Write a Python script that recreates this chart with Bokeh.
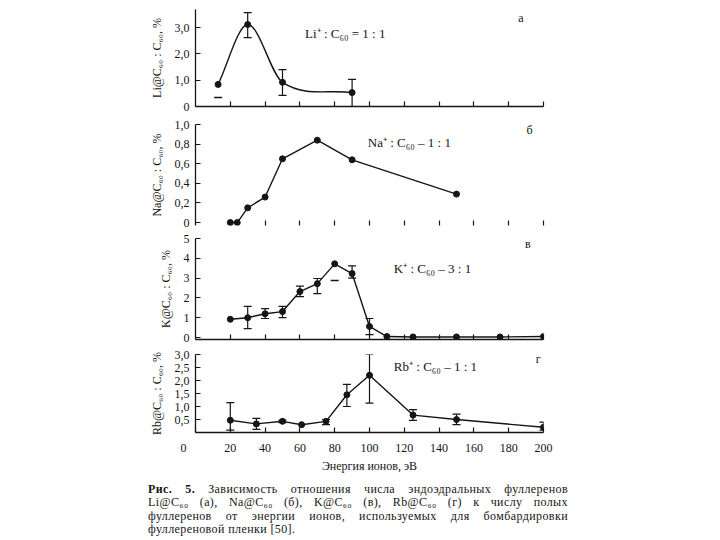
from bokeh.plotting import figure
from bokeh.models import (Range1d, FixedTicker, CustomJSTickFormatter, Whisker, TeeHead,
                          ColumnDataSource, Label, Div)
from bokeh.layouts import column
from bokeh.embed import file_html
from bokeh.resources import INLINE

FONT = "Liberation Serif"
INK = "#151515"

x_ticks = [20, 40, 60, 80, 100, 120, 140, 160, 180, 200]

# --- panel а: Li@C60 ---
li_x = [13, 30, 50, 90]
li_y = [0.84, 3.12, 0.92, 0.53]
li_err_x = [30, 50, 90]
li_err_lo = [2.62, 0.42, 0.0]
li_err_hi = [3.57, 1.40, 1.03]
li_dash_x = [13]
li_dash_y = [0.34]

# --- panel б: Na@C60 ---
na_x = [20, 24, 30, 40, 50, 70, 90, 150]
na_y = [0.0, 0.0, 0.15, 0.26, 0.65, 0.84, 0.64, 0.29]

# --- panel в: K@C60 ---
k_x = [20, 30, 40, 50, 60, 70, 80, 90, 100, 110, 125, 150, 175, 200]
k_y = [0.92, 1.0, 1.2, 1.31, 2.32, 2.72, 3.72, 3.23, 0.56, 0.05, 0.03, 0.03, 0.03, 0.05]
k_err_x = [30, 40, 50, 60, 70, 90, 100]
k_err_lo = [0.45, 0.96, 1.0, 2.07, 2.22, 3.0, 0.15]
k_err_hi = [1.57, 1.46, 1.57, 2.6, 2.98, 3.62, 0.96]
k_dash_x = [80]
k_dash_y = [2.88]

# --- panel г: Rb@C60 ---
rb_x = [20, 35, 50, 61, 75, 87, 100, 125, 150, 200]
rb_y = [0.47, 0.33, 0.43, 0.30, 0.43, 1.45, 2.2, 0.67, 0.5, 0.2]
rb_err_x = [20, 35, 50, 75, 87, 100, 125, 150, 200]
rb_err_lo = [0.09, 0.12, 0.38, 0.3, 1.0, 1.13, 0.47, 0.3, 0.09]
rb_err_hi = [1.15, 0.54, 0.48, 0.5, 1.85, 3.0, 0.88, 0.71, 0.4]

comma_fmt = CustomJSTickFormatter(
    code="return tick == 0 ? '0' : tick.toFixed(1).replace('.', ',');")


def base_fig(height, top, bottom, y0, y1, yticks, ylabel, comma=True, xlabels=False):
    p = figure(width=568, height=height, x_range=Range1d(0, 200), y_range=Range1d(y0, y1),
               min_border_left=195, min_border_right=25, min_border_top=top,
               min_border_bottom=bottom, output_backend="svg", toolbar_location=None, tools="")
    p.grid.visible = False
    p.outline_line_color = None
    p.background_fill_color = "white"
    p.border_fill_color = "white"

    yax = p.yaxis[0]
    yax.ticker = FixedTicker(ticks=yticks)
    if comma:
        yax.formatter = comma_fmt
    yax.major_tick_in = 5
    yax.major_tick_out = 0
    yax.minor_tick_line_color = None
    yax.axis_line_color = INK
    yax.axis_line_width = 1.3
    yax.major_tick_line_color = INK
    yax.major_tick_line_width = 1.2
    yax.major_label_text_font = FONT
    yax.major_label_text_font_size = "12px"
    yax.major_label_text_color = INK
    yax.major_label_standoff = 6
    yax.axis_label = ylabel
    yax.axis_label_text_font = FONT
    yax.axis_label_text_font_size = "12px"
    yax.axis_label_text_font_style = "normal"
    yax.axis_label_text_color = INK
    yax.axis_label_standoff = 8

    xax = p.xaxis[0]
    xax.ticker = FixedTicker(ticks=x_ticks)
    xax.major_tick_in = 5
    xax.major_tick_out = 0
    xax.minor_tick_line_color = None
    xax.axis_line_color = INK
    xax.axis_line_width = 1.3
    xax.major_tick_line_color = INK
    xax.major_tick_line_width = 1.2
    if xlabels:
        xax.major_label_text_font = FONT
        xax.major_label_text_font_size = "12px"
        xax.major_label_text_color = INK
        xax.major_label_standoff = 8
    else:
        xax.major_label_text_font_size = "1px"
        xax.major_label_text_color = None
        xax.major_label_standoff = 0
    return p


def add_label(p, x, y, text, size="12px", align="left"):
    p.add_layout(Label(x=x, y=y, text=text, text_font=FONT, text_font_size=size,
                       text_color=INK, text_align=align, text_baseline="middle"))


def add_errors(p, xs, lo, hi):
    src = ColumnDataSource(dict(x=xs, lo=lo, hi=hi))
    w = Whisker(base="x", lower="lo", upper="hi", source=src, dimension="height",
                line_color=INK, line_width=1.2,
                upper_head=TeeHead(size=8, line_color=INK, line_width=1.2),
                lower_head=TeeHead(size=8, line_color=INK, line_width=1.2))
    p.add_layout(w)


# ---------- panel а ----------
pa = base_fig(115, 9, 9, 0, 3.69, [0, 1, 2, 3], "Li@C\u2086\u2080 : C\u2086\u2080, %")
n = len(li_x)
slopes = []
for i in range(n):
    if i == 0:
        slopes.append((li_y[1] - li_y[0]) / (li_x[1] - li_x[0]))
    elif i == n - 1:
        slopes.append((li_y[-1] - li_y[-2]) / (li_x[-1] - li_x[-2]))
    else:
        slopes.append((li_y[i + 1] - li_y[i - 1]) / (li_x[i + 1] - li_x[i - 1]))
bx0, by0, bx1, by1, cx0, cy0, cx1, cy1 = [], [], [], [], [], [], [], []
for i in range(n - 1):
    h = li_x[i + 1] - li_x[i]
    bx0.append(li_x[i]); by0.append(li_y[i])
    bx1.append(li_x[i + 1]); by1.append(li_y[i + 1])
    cx0.append(li_x[i] + h / 3); cy0.append(li_y[i] + slopes[i] * h / 3)
    cx1.append(li_x[i + 1] - h / 3); cy1.append(li_y[i + 1] - slopes[i + 1] * h / 3)
pa.bezier(x0=bx0, y0=by0, x1=bx1, y1=by1, cx0=cx0, cy0=cy0, cx1=cx1, cy1=cy1,
          line_color=INK, line_width=1.4)
add_errors(pa, li_err_x, li_err_lo, li_err_hi)
pa.scatter(li_x, li_y, size=6, color=INK)
pa.scatter(li_dash_x, li_dash_y, marker="dash", size=8, line_color=INK, line_width=1.4)
add_label(pa, 63, 2.78, "Li\u207A : C\u2086\u2080 = 1 : 1", "13px")
add_label(pa, 187, 3.38, "а", "12px", "center")

# ---------- panel б ----------
pb = base_fig(115, 9, 5, -0.03, 1.0, [0, 0.2, 0.4, 0.6, 0.8, 1.0], "Na@C\u2086\u2080 : C\u2086\u2080, %")
pb.xaxis[0].axis_line_alpha = 0
pb.line(na_x, na_y, line_color=INK, line_width=1.4)
pb.scatter(na_x, na_y, size=6, color=INK)
add_label(pb, 99, 0.816, "Na\u207A : C\u2086\u2080 \u2013 1 : 1", "13px")
add_label(pb, 192, 0.94, "б", "12px", "center")

# ---------- panel в ----------
pc = base_fig(116, 8, 7, -0.1, 5.0, [0, 1, 2, 3, 4, 5], "K@C\u2086\u2080 : C\u2086\u2080, %", comma=False)
pc.line(k_x, k_y, line_color=INK, line_width=1.4)
add_errors(pc, k_err_x, k_err_lo, k_err_hi)
pc.scatter(k_x, k_y, size=6, color=INK)
pc.scatter(k_dash_x, k_dash_y, marker="dash", size=8, line_color=INK, line_width=1.4)
add_label(pc, 114, 3.48, "K\u207A : C\u2086\u2080 \u2013 3 : 1", "13px")
add_label(pc, 191, 4.72, "в", "12px", "center")

# ---------- panel г ----------
pd = base_fig(129, 8, 34, 0, 3.0, [0.5, 1.0, 1.5, 2.0, 2.5, 3.0], "Rb@C\u2086\u2080 : C\u2086\u2080, %",
              xlabels=True)
pd.xaxis[0].ticker = FixedTicker(ticks=[0] + x_ticks)
pd.xaxis[0].major_label_overrides = {0: "0\u2007\u2007\u2007\u2007"}
pd.xaxis[0].axis_label = "Энергия ионов, эВ"
pd.xaxis[0].axis_label_text_font = FONT
pd.xaxis[0].axis_label_text_font_size = "12px"
pd.xaxis[0].axis_label_text_font_style = "normal"
pd.xaxis[0].axis_label_text_color = INK
pd.xaxis[0].axis_label_standoff = 1
pd.line(rb_x, rb_y, line_color=INK, line_width=1.4)
add_errors(pd, rb_err_x, rb_err_lo, rb_err_hi)
pd.scatter(rb_x, rb_y, size=6, color=INK)
add_label(pd, 114, 2.52, "Rb\u207A : C\u2086\u2080 \u2013 1 : 1", "13px")
add_label(pd, 197, 2.83, "г", "12px", "center")

line_style = ("text-align:justify;text-align-last:justify;white-space:nowrap;"
              "height:13.3px;line-height:13.3px;")
caption_html = (
    "<div style=\"margin-left:143px;width:420px;font-family:'Liberation Serif';"
    "font-size:12px;letter-spacing:0.4px;color:#151515;padding-top:3px;\">"
    f"<div style=\"{line_style}\"><b>Рис. 5.</b> Зависимость отношения числа эндоэдральных фуллеренов</div>"
    f"<div style=\"{line_style}\">Li@C\u2086\u2080 (а), Na@C\u2086\u2080 (б), "
    "K@C\u2086\u2080 (в), Rb@C\u2086\u2080 (г) к числу полых</div>"
    f"<div style=\"{line_style}\">фуллеренов от энергии ионов, используемых для бомбардировки</div>"
    "<div style=\"height:13.3px;line-height:13.3px;\">фуллереновой пленки [50].</div>"
    "</div>"
)
caption = Div(text=caption_html, width=600, height=65, styles={"overflow": "visible"})

layout = column(pa, pb, pc, pd, caption, spacing=0)

open("out.html", "w").write(file_html(layout, INLINE))
